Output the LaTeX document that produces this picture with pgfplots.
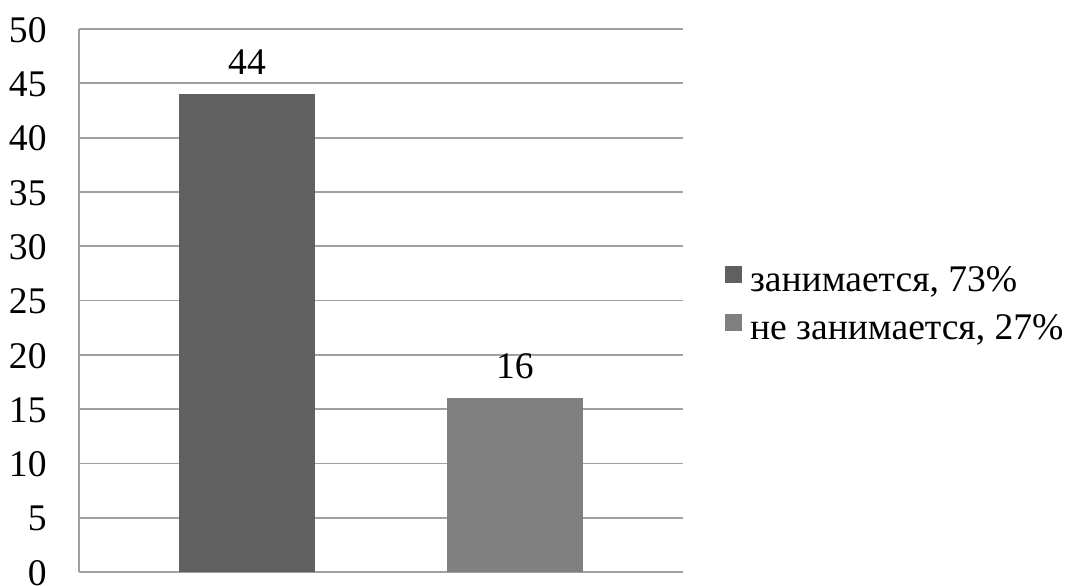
\documentclass[border=0pt]{standalone}
\usepackage{fontspec}
\setmainfont{Liberation Serif}
\usepackage{pgfplots}
\pgfplotsset{compat=1.18}
\definecolor{barA}{HTML}{606060}
\definecolor{barB}{HTML}{808080}
\definecolor{gridc}{HTML}{A0A0A0}
\newcommand{\chartfont}{\fontsize{18.8}{22}\selectfont}
\begin{document}
\chartfont
\begin{tikzpicture}
\path[use as bounding box] (0,0) rectangle (533.5pt,292.5pt);
\begin{axis}[
  at={(39.5pt,6.5pt)}, anchor=south west,
  scale only axis, width=302pt, height=271.5pt,
  xmin=-0.627, xmax=1.627, ymin=0, ymax=50,
  ytick={0,5,...,50}, xtick=\empty,
  ymajorgrids, grid style={gridc, line width=0.9pt},
  axis x line*=bottom, axis y line*=left,
  axis line style={gridc, line width=0.9pt},
  major tick length=0pt,
  /pgf/number format/assume math mode=true,
  yticklabel style={anchor=east, inner sep=0pt, xshift=-16pt, yshift=-0.5pt, font=\chartfont},
  ybar, bar width=0.504, bar shift=0pt,
  nodes near coords,
  nodes near coords style={anchor=south, inner sep=0pt, yshift=9.5pt, font=\chartfont, text=black},
  legend cell align=left,
  legend image code/.code={\fill[#1] (0pt,-0.5pt) rectangle (8.3pt,7.8pt);},
  legend style={at={(1,0.5)}, anchor=west, xshift=21pt, yshift=-2.75pt,
    draw=none, fill=none, inner sep=0pt, column sep=4pt, row sep=7pt,
    font=\chartfont,
    nodes={inner sep=0pt, text height=13pt, text depth=4pt}},
]
\addplot[fill=barA, draw=none] coordinates {(0,44)};
\addlegendentry{занимается, 73\%}
\addplot[fill=barB, draw=none] coordinates {(1,16)};
\addlegendentry{не занимается, 27\%}
\end{axis}
\end{tikzpicture}
\end{document}
